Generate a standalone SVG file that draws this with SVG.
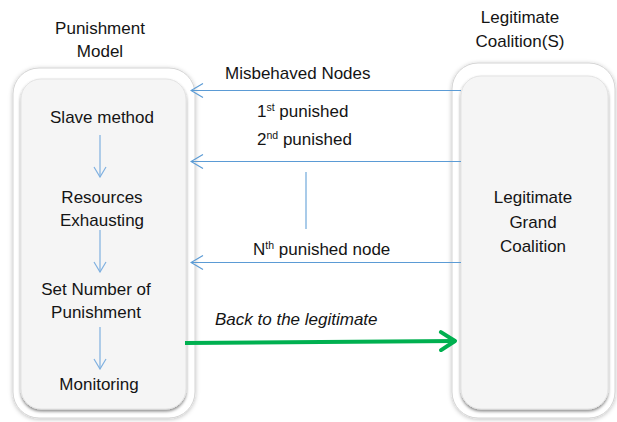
<svg xmlns="http://www.w3.org/2000/svg" width="617" height="422" viewBox="0 0 617 422">
  <style>
    text { font-family: "Liberation Sans", Arial, sans-serif; font-size: 17px; fill: #141414; }
    .mid { text-anchor: middle; }
    .sup { font-size: 10.5px; }
    .it { font-style: italic; }
    .frame { fill: #ffffff; stroke: #d4d4d4; stroke-width: 1; filter: url(#halo); }
    .panel { fill: #f5f5f5; stroke: #e3e3e3; stroke-width: 1; filter: url(#inset); }
    .flow { stroke: #5b9bd5; stroke-width: 1.2; fill: none; }
    .step { stroke: #7fb0e0; stroke-width: 1.2; fill: none; }
    .gap { stroke: #a9cbe9; stroke-width: 2; fill: none; }
    .back { stroke: #00b050; stroke-width: 4; fill: none; }
  </style>
  <defs>
    <filter id="halo" x="-10%" y="-10%" width="120%" height="120%">
      <feDropShadow dx="0" dy="1" stdDeviation="2" flood-color="#000" flood-opacity="0.25"/>
    </filter>
    <filter id="inset" x="-10%" y="-10%" width="120%" height="120%">
      <feDropShadow dx="0" dy="2" stdDeviation="1.5" flood-color="#000" flood-opacity="0.45"/>
    </filter>
    <!-- open chevron head, tip at the line end -->
    <marker id="open" viewBox="0 0 14 16" refX="13" refY="8" markerWidth="14" markerHeight="16" markerUnits="userSpaceOnUse" orient="auto">
      <path d="M1,1 L13,8 L1,15" fill="none" stroke="#5b9bd5" stroke-width="1.2"/>
    </marker>
    <marker id="down" viewBox="0 0 14 12" refX="7" refY="11" markerWidth="14" markerHeight="12" markerUnits="userSpaceOnUse" orient="0">
      <path d="M1,1 L7,11 L13,1" fill="none" stroke="#7fb0e0" stroke-width="1.2"/>
    </marker>
    <marker id="green" viewBox="0 0 20 22" refX="18" refY="11" markerWidth="20" markerHeight="22" markerUnits="userSpaceOnUse" orient="auto">
      <path d="M3,2 L17,11 L3,20" fill="none" stroke="#00b050" stroke-width="4" stroke-linecap="round" stroke-linejoin="round"/>
    </marker>
  </defs>

  <!-- Punishment model column -->
  <g id="punishment-model">
    <text class="mid" x="100" y="34">Punishment</text>
    <text class="mid" x="100" y="57">Model</text>
    <rect class="frame" x="13" y="68" width="182" height="350" rx="26"/>
    <rect class="panel" x="21" y="79" width="165" height="330" rx="20"/>
  </g>
  <g id="slave-method"><text class="mid" x="102" y="123">Slave method</text></g>
  <g id="resources-exhausting">
    <text class="mid" x="102" y="203">Resources</text>
    <text class="mid" x="102" y="226">Exhausting</text>
  </g>
  <g id="set-number">
    <text class="mid" x="96" y="295">Set Number of</text>
    <text class="mid" x="96" y="318">Punishment</text>
  </g>
  <g id="monitoring"><text class="mid" x="99" y="390">Monitoring</text></g>

  <!-- Legitimate coalition column -->
  <g id="legitimate-coalition">
    <text class="mid" x="520" y="23">Legitimate</text>
    <text class="mid" x="520" y="47">Coalition(S)</text>
    <rect class="frame" x="452" y="63" width="163" height="355" rx="26"/>
    <rect class="panel" x="461" y="76" width="147" height="333" rx="20"/>
    <text class="mid" x="533" y="203">Legitimate</text>
    <text class="mid" x="533" y="228">Grand</text>
    <text class="mid" x="533" y="252">Coalition</text>
  </g>

  <!-- Connectors -->
  <g id="connectors">
    <line class="step" x1="100" y1="135" x2="100" y2="177" marker-end="url(#down)"/>
    <line class="step" x1="100" y1="230" x2="100" y2="272" marker-end="url(#down)"/>
    <line class="step" x1="100" y1="327" x2="100" y2="369" marker-end="url(#down)"/>

    <line class="flow" x1="461" y1="90.5" x2="191" y2="90.5" marker-end="url(#open)"/>
    <line class="flow" x1="461" y1="161.5" x2="191" y2="161.5" marker-end="url(#open)"/>
    <line class="flow" x1="461" y1="262.5" x2="191" y2="262.5" marker-end="url(#open)"/>
    <line class="gap" x1="306" y1="172" x2="306" y2="229"/>

    <line class="back" x1="185" y1="343" x2="456" y2="341" marker-end="url(#green)"/>

    <text x="225" y="79">Misbehaved Nodes</text>
    <text x="257" y="117">1<tspan class="sup" dy="-6">st</tspan><tspan dy="6"> punished</tspan></text>
    <text x="257" y="145">2<tspan class="sup" dy="-6">nd</tspan><tspan dy="6"> punished</tspan></text>
    <text x="253" y="255">N<tspan class="sup" dy="-6">th</tspan><tspan dy="6"> punished node</tspan></text>
    <text class="it" x="215" y="325">Back to the legitimate</text>
  </g>
</svg>
